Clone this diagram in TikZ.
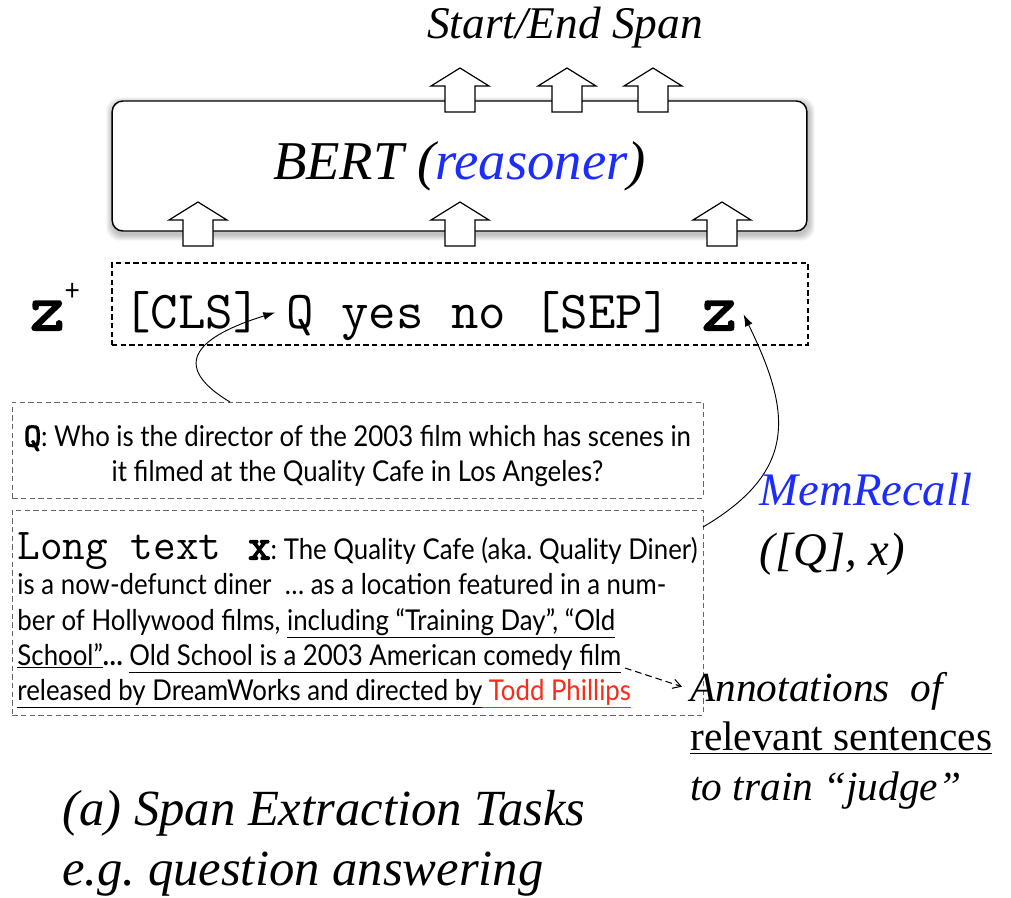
\documentclass[tikz,border=0pt]{standalone}
\usepackage{fontspec}
\setmainfont{Liberation Serif}
\newfontfamily\gothic[FakeStretch=0.9]{Lato}
\newfontfamily\boldmono[FakeBold=3]{Latin Modern Mono}
\usetikzlibrary{arrows.meta,backgrounds}
\definecolor{memblue}{RGB}{28,44,250}
\definecolor{toddred}{RGB}{245,45,25}
\newcommand{\fsz}[2]{\fontsize{#1}{#2}\selectfont}
\frenchspacing
\begin{document}
\begin{tikzpicture}[x=0.75pt, y=-0.75pt,
    bertbox/.style={draw, line width=1.1pt, rounded corners=8pt, fill=white,
      minimum width=521pt, minimum height=97.5pt, inner sep=0pt, font=\itshape\fsz{41}{48}},
    tokbox/.style={draw, dash pattern=on 4pt off 2.5pt, line width=0.8pt,
      minimum width=522pt, minimum height=61.5pt, inner sep=0pt},
    textbox/.style={draw=black!60, dash pattern=on 4pt off 2.5pt, line width=0.5pt,
      minimum width=518pt, inner sep=0pt, font=\gothic\fsz{21.5}{26.5}},
    tok/.style={inner sep=0pt, anchor=base west, font=\ttfamily\fsz{40}{44}},
    link/.style={-{Latex[length=9pt,width=6pt]}, line width=0.7pt},
    blockup/.pic={\draw[fill=white, line width=0.9pt, line join=miter]
      (0,0) -- (29,18) -- (15,18) -- (15,44) -- (-15,44) -- (-15,18) -- (-29,18) -- cycle;}]
  \useasboundingbox (0,0) rectangle (1011,897);

  % reasoner
  \node[bertbox] (bert) at (459.5,166) {BERT (\textcolor{memblue}{reasoner})};
  \begin{scope}[on background layer]
    \foreach \g in {1,...,6}
      \fill[black, opacity=0.045, rounded corners=10pt]
        ([shift={(-\g+1,-\g+3)}]bert.north west) rectangle ([shift={(\g+1,\g+3)}]bert.south east);
  \end{scope}
  \foreach \px in {460,567,653} \pic at (\px,68) {blockup};
  \foreach \px in {198,460,722} \pic at (\px,202) {blockup};
  \node[anchor=base, font=\itshape\fsz{34}{40}] (span) at (565,38) {Start/End Span};

  % input sequence
  \node[tokbox] (tokens) at (460,304) {};
  \node[tok] (zplus) at (30,330) {\boldmono\fsz{50}{50}z\raisebox{22pt}{\normalfont\gothic\fsz{22}{22}+}};
  \node[tok] (tcls) at (123,328) {[CLS]};
  \node[tok] (tq) at (286,328) {Q};
  \node[tok] (tyes) at (341,328) {yes};
  \node[tok] (tno) at (451,328) {no};
  \node[tok] (tsep) at (533,328) {[SEP]};
  \node[tok] (tz) at (702,330) {\boldmono\fsz{50}{50}z};

  % question and long text
  \node[textbox, minimum height=72pt, align=center] (qbox) at (357.5,450)
    {\rule{0pt}{25pt}{\boldmono\fsz{25}{25}Q}: Who is the director of the 2003 film which has scenes in\\
     it filmed at the Quality Cafe in Los Angeles?};
  \node[textbox, minimum height=153.75pt, align=left] (xbox) at (357.5,612.5)
    {\rule{0pt}{32pt}{\ttfamily\fsz{33}{33}Long text\ \hspace{3pt}{\boldmono x}}: The Quality Cafe (aka. Quality Diner)\\
     is a now-defunct diner ~… as a location featured in a num-\\
     ber of Hollywood films, \underline{including “Training Day”, “Old}\\
     \underline{School”}\textbf{…} \underline{Old School is a 2003 American comedy film}\\
     \underline{released by DreamWorks and directed by}\textcolor{toddred}{\underline{ Todd Phillips}}};

  % labels on the right and caption
  \node[anchor=base west, align=left, font=\itshape\fsz{35}{45}] (memrec) at (755,565)
    {\textcolor{memblue}{MemRecall}\\([Q], x)};
  \node[anchor=north west, align=left, inner sep=0pt, font=\fsz{31}{37}] (ann) at (690,672)
    {\textit{Annotations ~of}\\\underline{relevant sentences}\\\textit{to train “judge”}};
  \node[anchor=north west, align=left, inner sep=0pt, font=\itshape\fsz{38}{45}] (caption) at (62,790)
    {(a) Span Extraction Tasks\\e.g. question answering};

  % connectors
  \coordinate (qsrc) at (230,402);
  \coordinate (xsrc) at (703,527);
  \coordinate (filmsrc) at (625,668);
  \draw[link] (qsrc) .. controls (160,360) and (212,332) .. ([xshift=-8pt,yshift=2pt]tq.west);
  \draw[link] (xsrc) .. controls (800,470) and (790,410) .. ([xshift=5pt,yshift=1pt]tz.east);
  \draw[-{Straight Barb[length=6pt,width=7pt]}, dash pattern=on 5pt off 3pt, line width=0.8pt]
    (filmsrc) -- ([xshift=-6pt,yshift=-11pt]ann.west |- ann.north);
\end{tikzpicture}
\end{document}
